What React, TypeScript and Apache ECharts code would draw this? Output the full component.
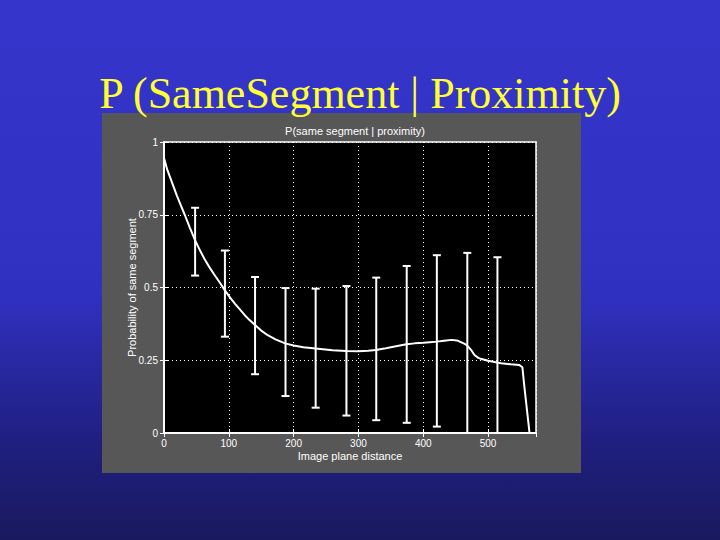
import React, { useEffect, useRef } from "react";
import * as echarts from "echarts";

// Curve: P(same segment | proximity) vs image plane distance
const curveX = [0, 5, 10, 15, 20, 26, 32, 40, 48, 55, 62, 70, 78, 86, 94, 102, 110, 118, 125, 132, 140, 150, 160, 172, 187, 200, 215, 234, 260, 281, 300, 315, 327, 340, 350, 362, 374, 387, 400, 410, 421, 432, 444, 452, 458, 464, 468, 474, 479, 485, 490, 500, 510, 520, 535, 548, 553, 556, 560, 564];
const curveY = [0.945, 0.905, 0.875, 0.845, 0.815, 0.782, 0.75, 0.705, 0.662, 0.63, 0.6, 0.57, 0.543, 0.517, 0.49, 0.465, 0.443, 0.422, 0.404, 0.388, 0.372, 0.352, 0.336, 0.322, 0.308, 0.301, 0.295, 0.29, 0.284, 0.282, 0.281, 0.283, 0.285, 0.29, 0.295, 0.3, 0.305, 0.308, 0.31, 0.312, 0.314, 0.317, 0.32, 0.318, 0.312, 0.306, 0.3, 0.285, 0.268, 0.258, 0.254, 0.248, 0.244, 0.24, 0.236, 0.234, 0.226, 0.16, 0.08, 0];

// Error bars
const barX = [48, 94, 140.5, 187.5, 234, 281.5, 327.5, 374.5, 421, 468, 514.5];
const barLow = [0.541, 0.331, 0.202, 0.127, 0.087, 0.06, 0.044, 0.035, 0.022, -0.05, -0.05];
const barHigh = [0.774, 0.627, 0.536, 0.498, 0.496, 0.505, 0.534, 0.574, 0.611, 0.619, 0.604];

const yTicks = [0, 0.25, 0.5, 0.75, 1];

export default function App() {
  const ref = useRef<HTMLDivElement>(null);

  useEffect(() => {
    if (!ref.current) return;
    const chart = echarts.init(ref.current, null, { renderer: "svg" });
    const lineData = curveX.map((x, i) => [x, curveY[i]]);
    const barData = barX.map((x, i) => [x, barLow[i], barHigh[i]]);
    const sans = "Liberation Sans";
    const grid = { left: 164, top: 142, width: 372, height: 291 };

    chart.setOption({
      animation: false,
      backgroundColor: {
        type: "linear",
        x: 0, y: 0, x2: 0, y2: 1,
        colorStops: [
          { offset: 0, color: "#3535cc" },
          { offset: 0.55, color: "#3030c0" },
          { offset: 0.82, color: "#1f1f80" },
          { offset: 1, color: "#19195e" },
        ],
      },
      title: [
        {
          text: "P (SameSegment | Proximity)",
          left: "center",
          top: 66,
          textStyle: { color: "#ffff33", fontFamily: "Liberation Serif", fontSize: 44, fontWeight: "normal" },
        },
        {
          text: "P(same segment | proximity)",
          left: 350,
          textAlign: "center",
          top: 120,
          textStyle: { color: "#ffffff", fontFamily: sans, fontSize: 11, fontWeight: "normal" },
          z: 10,
        },
      ],
      graphic: [
        {
          type: "rect",
          z: -10,
          silent: true,
          shape: { x: 102, y: 113, width: 479, height: 360 },
          style: { fill: "#575757" },
        },
        {
          type: "rect",
          z: -5,
          silent: true,
          shape: { x: grid.left, y: grid.top, width: grid.width, height: grid.height },
          style: { fill: "#000000" },
        },
      ],
      grid: { ...grid, show: true, borderColor: "#ffffff", borderWidth: 1.5, backgroundColor: "transparent" },
      xAxis: [
        {
          type: "value",
          min: 0,
          max: 574,
          interval: 100,
          name: "Image plane distance",
          nameLocation: "middle",
          nameGap: 17,
          nameMoveOverlap: false,
          nameTextStyle: { color: "#ffffff", fontFamily: sans, fontSize: 11 },
          axisLine: { show: true, lineStyle: { color: "#ffffff", width: 1.5 } },
          axisTick: { show: true, inside: true, length: 4, lineStyle: { color: "#ffffff" } },
          axisLabel: { color: "#ffffff", fontFamily: sans, fontSize: 10, margin: 5, showMaxLabel: false },
          splitLine: { show: true, lineStyle: { color: "#ffffff", type: [1, 3], width: 1 } },
        },
        {
          type: "value",
          position: "top",
          min: 0,
          max: 574,
          interval: 100,
          axisLine: { show: true, lineStyle: { color: "#ffffff", width: 1.5 } },
          axisTick: { show: true, inside: true, length: 4, lineStyle: { color: "#ffffff" } },
          axisLabel: { show: false },
          splitLine: { show: false },
        },
      ],
      yAxis: [
        {
          type: "value",
          min: 0,
          max: 1,
          interval: 0.25,
          name: "Probability of same segment",
          nameLocation: "middle",
          nameGap: 27,
          nameMoveOverlap: false,
          nameTextStyle: { color: "#ffffff", fontFamily: sans, fontSize: 11 },
          axisLine: { show: true, lineStyle: { color: "#ffffff", width: 1.5 } },
          axisTick: { show: true, inside: true, length: 4, lineStyle: { color: "#ffffff" } },
          axisLabel: {
            color: "#ffffff",
            fontFamily: sans,
            fontSize: 10,
            margin: 6,
            formatter: (v: number) => (yTicks.includes(v) ? String(v) : ""),
          },
          splitLine: { show: true, lineStyle: { color: "#ffffff", type: [1, 3], width: 1 } },
        },
        {
          type: "value",
          position: "right",
          min: 0,
          max: 1,
          interval: 0.25,
          axisLine: { show: true, lineStyle: { color: "#ffffff", width: 1.5 } },
          axisTick: { show: true, inside: true, length: 4, lineStyle: { color: "#ffffff" } },
          axisLabel: { show: false },
          splitLine: { show: false },
        },
      ],
      series: [
        {
          type: "line",
          data: lineData,
          showSymbol: false,
          smooth: false,
          lineStyle: { color: "#ffffff", width: 2 },
          clip: true,
          z: 3,
        },
        {
          type: "custom",
          data: barData,
          clip: true,
          z: 4,
          renderItem: (params: any, api: any) => {
            const x = api.value(0);
            const lo = api.coord([x, api.value(1)]);
            const hi = api.coord([x, api.value(2)]);
            const hw = 4;
            const style = { stroke: "#ffffff", lineWidth: 2 };
            return {
              type: "group",
              children: [
                { type: "line", shape: { x1: lo[0], y1: lo[1], x2: hi[0], y2: hi[1] }, style },
                { type: "line", shape: { x1: hi[0] - hw, y1: hi[1], x2: hi[0] + hw, y2: hi[1] }, style },
                { type: "line", shape: { x1: lo[0] - hw, y1: lo[1], x2: lo[0] + hw, y2: lo[1] }, style },
              ],
            };
          },
        },
      ],
    });
    return () => chart.dispose();
  }, []);

  return (
    <div
      ref={ref}
      style={{ position: "fixed", left: 0, top: 0, width: 720, height: 540 }}
    />
  );
}
